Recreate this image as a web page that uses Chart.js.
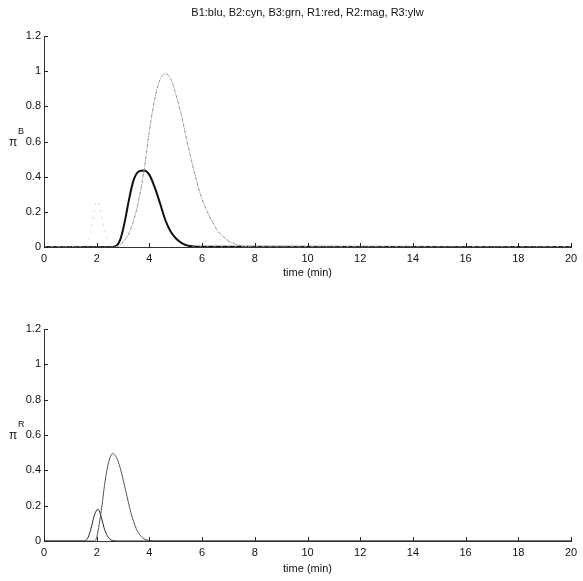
<!DOCTYPE html>
<html>
<head>
<meta charset="utf-8">
<script src="https://cdn.jsdelivr.net/npm/chart.js@4/dist/chart.umd.min.js"></script>
<style>
  html, body { margin: 0; padding: 0; background: #fff; }
  #wrap { position: relative; width: 583px; height: 581px; }
  #topBox { position: absolute; left: 0; top: 0; width: 583px; height: 290px; }
  #botBox { position: absolute; left: 0; top: 290px; width: 583px; height: 291px; }
</style>
</head>
<body>
<div id="wrap">
  <div id="topBox"><canvas id="topChart" width="583" height="290"></canvas></div>
  <div id="botBox"><canvas id="botChart" width="583" height="291"></canvas></div>
</div>
<script>
const TITLE = "B1:blu, B2:cyn, B3:grn, R1:red, R2:mag, R3:ylw";
const X_LABEL = "time (min)";

// top panel (pi^B)
const b1X = [0, 2.6, 2.7, 2.8, 2.9, 3.0, 3.1, 3.2, 3.4, 3.6, 3.8, 4.0, 4.2, 4.4, 4.6, 4.8, 5.0, 5.2, 5.4, 5.6, 6.0, 20];
const b1Y = [0, 0, 0.003, 0.015, 0.045, 0.1, 0.17, 0.25, 0.38, 0.43, 0.435, 0.41, 0.34, 0.25, 0.155, 0.09, 0.05, 0.025, 0.01, 0.005, 0.002, 0];

const b2X = [0, 2.8, 3.0, 3.2, 3.4, 3.6, 3.8, 4.0, 4.2, 4.4, 4.6, 4.8, 5.0, 5.2, 5.4, 5.6, 5.8, 6.0, 6.2, 6.4, 6.6, 6.8, 7.0, 7.2, 7.4, 7.6, 8.0, 20];
const b2Y = [0, 0, 0.03, 0.07, 0.15, 0.27, 0.44, 0.66, 0.84, 0.95, 0.985, 0.96, 0.87, 0.76, 0.62, 0.49, 0.37, 0.27, 0.2, 0.14, 0.09, 0.06, 0.035, 0.02, 0.01, 0.004, 0, 0];

const b3X = [0, 1.5, 1.6, 1.7, 1.8, 1.9, 2.0, 2.1, 2.2, 2.3, 2.4, 2.5, 2.6, 2.8, 20];
const b3Y = [0, 0, 0.01, 0.04, 0.11, 0.2, 0.26, 0.24, 0.17, 0.1, 0.05, 0.02, 0.005, 0, 0];

// bottom panel (pi^R)
const r1X = [0, 1.5, 1.6, 1.7, 1.8, 1.9, 2.0, 2.05, 2.1, 2.2, 2.3, 2.4, 2.5, 2.6, 2.8, 20];
const r1Y = [0, 0, 0.005, 0.03, 0.08, 0.14, 0.175, 0.18, 0.17, 0.12, 0.065, 0.03, 0.01, 0.003, 0, 0];

const r2X = [0, 1.9, 2.0, 2.1, 2.2, 2.3, 2.4, 2.5, 2.6, 2.7, 2.8, 2.9, 3.0, 3.1, 3.2, 3.3, 3.4, 3.5, 3.6, 3.7, 3.8, 4.0, 4.2, 20];
const r2Y = [0, 0, 0.02, 0.1, 0.2, 0.32, 0.41, 0.47, 0.495, 0.485, 0.455, 0.41, 0.35, 0.285, 0.22, 0.16, 0.11, 0.07, 0.042, 0.024, 0.012, 0.003, 0, 0];

const X_MIN = 0, X_MAX = 20, X_STEP = 2;
const Y_MIN = 0, Y_MAX = 1.2, Y_STEP = 0.2;

const FONT = '"Liberation Sans", Arial, sans-serif';

function pts(xs, ys) {
  return xs.map((x, i) => ({ x: x, y: ys[i] }));
}

function line(xs, ys, color, width, dash) {
  return {
    data: pts(xs, ys),
    borderColor: color,
    borderWidth: width,
    borderDash: dash || [],
    pointRadius: 0,
    fill: false,
    cubicInterpolationMode: "monotone"
  };
}

// inward ticks, pi label and title, matlab style
const decor = {
  id: "decor",
  afterDraw(chart, args, opts) {
    const { ctx, chartArea: a, scales: { x, y } } = chart;
    ctx.save();
    ctx.strokeStyle = "#222";
    ctx.lineWidth = 1;
    ctx.beginPath();
    x.ticks.forEach(t => {
      const px = Math.round(x.getPixelForValue(t.value)) + 0.5;
      ctx.moveTo(px, a.bottom);
      ctx.lineTo(px, a.bottom - 4);
    });
    y.ticks.forEach(t => {
      const py = Math.round(y.getPixelForValue(t.value)) + 0.5;
      ctx.moveTo(a.left, py);
      ctx.lineTo(a.left + 4, py);
    });
    ctx.stroke();

    ctx.fillStyle = "#111";
    const ly = y.getPixelForValue(0.6);
    ctx.textBaseline = "middle";
    ctx.textAlign = "left";
    ctx.font = "12px " + FONT;
    ctx.fillText("\u03c0", 9, ly + 1);
    ctx.font = "9px " + FONT;
    ctx.fillText(opts.sup, 18, ly - 10);

    if (opts.title) {
      ctx.font = "11px " + FONT;
      ctx.textAlign = "center";
      ctx.fillText(opts.title, (a.left + a.right) / 2, 13);
    }
    ctx.restore();
  }
};

function makeOptions(sup, title, padTop, xHeight, labelPadBottom) {
  return {
    responsive: false,
    animation: false,
    layout: { padding: { top: padTop, right: 12, left: 0, bottom: 0 } },
    plugins: {
      legend: { display: false },
      tooltip: { enabled: false },
      decor: { sup: sup, title: title }
    },
    scales: {
      x: {
        type: "linear",
        min: X_MIN,
        max: X_MAX,
        grid: { display: false, drawTicks: false, tickLength: 0 },
        border: { display: true, color: "#333", width: 1 },
        ticks: {
          stepSize: X_STEP,
          color: "#111",
          font: { family: FONT, size: 11 },
          padding: 5,
          maxRotation: 0
        },
        title: {
          display: true,
          text: X_LABEL,
          color: "#111",
          font: { family: FONT, size: 11 },
          padding: { top: 2, bottom: labelPadBottom }
        },
        afterFit(s) { s.height = xHeight; }
      },
      y: {
        type: "linear",
        min: Y_MIN,
        max: Y_MAX,
        grid: { display: false, drawTicks: false, tickLength: 0 },
        border: { display: true, color: "#333", width: 1 },
        ticks: {
          stepSize: Y_STEP,
          color: "#111",
          font: { family: FONT, size: 11 },
          padding: 3,
          callback: v => String(Number(v.toFixed(1)))
        },
        afterFit(s) { s.width = 44; }
      }
    }
  };
}

new Chart(document.getElementById("topChart"), {
  type: "line",
  data: {
    datasets: [
      line(b3X, b3Y, "#d4d4d4", 1, [2, 5]),
      line(b2X, b2Y, "#8a8a8a", 1, [3, 1, 1, 1]),
      line(b1X, b1Y, "#111", 2)
    ]
  },
  options: makeOptions("B", TITLE, 36, 43, 10),
  plugins: [decor]
});

new Chart(document.getElementById("botChart"), {
  type: "line",
  data: {
    datasets: [
      line(r2X, r2Y, "#555", 1),
      line(r1X, r1Y, "#222", 1)
    ]
  },
  options: makeOptions("R", null, 39, 40, 5),
  plugins: [decor]
});
</script>
</body>
</html>
